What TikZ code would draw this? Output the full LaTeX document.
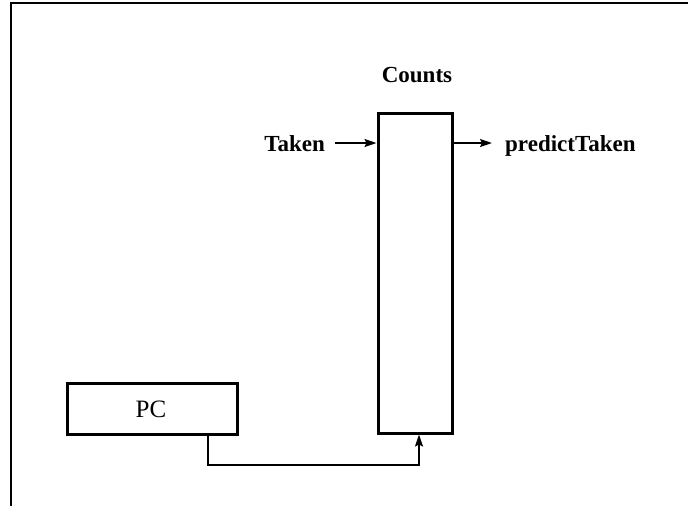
\documentclass[tikz,border=0pt]{standalone}
\usepackage{fontspec}
\setmainfont{Liberation Serif}
\usetikzlibrary{arrows.meta, positioning}

\begin{document}
\begin{tikzpicture}[x=1pt, y=-1pt,
  font=\fontsize{23}{26}\selectfont\bfseries,
  box/.style={draw, line width=3pt, inner sep=0pt},
  lbl/.style={inner sep=0pt, anchor=base},
  arr/.style={line width=1.8pt, -{Stealth[length=12pt, width=8pt, inset=2pt]}}]
  \useasboundingbox (0,0) rectangle (688,506);

  % Frame
  \draw[line width=1.6pt] (688,3) -- (11,3) -- (11,506);

  % Boxes
  \node[box, minimum width=74pt, minimum height=320pt] (counts) at (415,273) {};
  \node[box, minimum width=170pt, minimum height=51pt] (pc) at (152,408.5) {};
  \node[lbl, font=\fontsize{25}{28}\selectfont] (pctext) at (151,417) {PC};

  % Labels
  \node[lbl] (countslbl) at (417,82) {Counts};
  \node[lbl, anchor=base east] (taken) at (325,151) {Taken};
  \node[lbl, anchor=base west] (predict) at (505,151) {predictTaken};

  % Inputs and outputs
  \coordinate (tin) at (335,143);
  \coordinate (tout) at (492,143);
  \draw[arr] (tin) -- (tin -| counts.west);
  \draw[arr] (tin -| counts.east) -- (tout);

  % PC into the counter table
  \coordinate (c1) at (208,465);
  \coordinate (c2) at (419,465);
  \draw[arr] (pc.south -| c1) -- (c1) -- (c2) -- (counts.south -| c2);
\end{tikzpicture}
\end{document}
